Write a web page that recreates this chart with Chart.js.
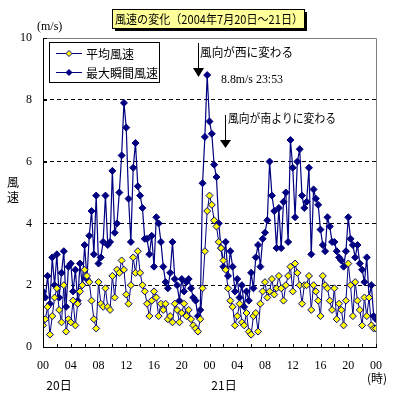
<!DOCTYPE html>
<html>
<head>
<meta charset="utf-8">
<script src="https://cdn.jsdelivr.net/npm/chart.js@4.4.0/dist/chart.umd.min.js"></script>
<style>
html, body { margin: 0; padding: 0; background: #fff; }
</style>
</head>
<body>
<canvas id="graficoVento" width="399" height="399"></canvas>
<script>
// 20分ごとの値 (0時〜48時), 1行 = 1時間
var velocidadeMedia = [
	0.7, 0.9, 1.3,   0.4, 1.0, 1.6,   1.9, 1.2, 0.8,   2.0, 0.5, 0.9,
	0.8, 1.5, 0.7,   1.4, 1.8, 2.0,   2.5, 2.3, 2.1,   1.5, 0.9, 0.6,
	2.1, 1.4, 1.3,   1.9, 1.3, 1.2,   2.3, 1.6, 2.5,   2.4, 2.8, 2.5,
	1.7, 1.4, 2.0,   2.9, 2.4, 3.1,   2.4, 2.0, 1.8,   1.4, 1.0, 1.5,
	1.8, 1.6, 1.0,   1.4, 1.2, 1.4,   0.9, 1.0, 0.8,   1.4, 1.2, 0.8,
	1.1, 1.4, 1.0,   1.2, 0.9, 0.7,   0.6, 0.5, 0.9,   1.9, 3.1, 4.4,
	4.9, 4.6, 4.1,   3.9, 3.4, 3.2,   2.8, 2.5, 1.9,   1.5, 1.3, 0.7,
	1.0, 1.4, 0.8,   0.7, 1.1, 0.5,   0.4, 1.0, 1.1,   0.5, 1.4, 1.8,
	2.1, 1.6, 1.8,   2.2, 1.7, 1.9,   2.3, 1.9, 1.5,   2.0, 2.3, 2.6,
	1.8, 2.7, 2.4,   2.0, 1.4, 2.0,   2.0, 2.3, 1.2,   2.0, 1.8, 1.5,
	1.0, 2.3, 2.0,   1.9, 1.5, 1.2,   1.9, 0.9, 1.4,   1.2, 0.7, 1.5,
	2.7, 2.0, 1.0,   2.1, 1.5, 1.2,   0.7, 1.6, 1.0,   1.6, 0.7, 0.6,
	0.6
];

var velocidadeMaxima = [
	1.8, 1.6, 2.3,   1.4, 2.9, 2.0,   3.0, 1.6, 2.4,   3.1, 1.3, 2.6,
	2.7, 1.8, 2.5,   1.5, 2.7, 2.0,   3.3, 2.2, 3.6,   4.4, 3.0, 4.9,
	2.7, 2.9, 3.4,   4.9, 3.3, 3.4,   5.7, 3.7, 4.0,   5.0, 6.2, 7.9,
	7.1, 4.8, 3.4,   5.8, 6.6, 5.2,   4.9, 4.5, 3.5,   3.5, 3.0, 3.6,
	2.6, 4.2, 4.0,   3.4, 2.6, 2.1,   1.9, 2.4, 3.4,   2.2, 2.0, 1.5,
	2.2, 1.8, 2.1,   2.2, 1.9, 1.6,   1.5, 1.0, 1.2,   5.3, 6.8, 8.8,
	7.3, 6.9, 5.9,   5.5, 4.0, 3.2,   2.6, 3.4, 2.3,   3.1, 2.6, 1.8,
	2.2, 1.6, 2.0,   1.3, 1.8, 1.5,   2.4, 1.9, 2.9,   3.3, 2.6, 3.5,
	3.7, 4.1, 6.0,   4.9, 4.4, 3.2,   4.5, 3.2, 4.7,   5.0, 3.4, 6.7,
	5.8, 4.2, 6.0,   6.4, 4.9, 4.5,   4.7, 5.8, 3.0,   5.1, 4.8, 4.6,
	3.8, 3.3, 3.1,   4.2, 3.9, 3.4,   3.4, 3.1, 2.9,   2.8, 2.6, 3.1,
	4.2, 3.5, 3.3,   2.9, 3.3, 2.7,   2.5, 2.1, 2.9,   1.6, 2.0, 1.0,
	0.9
];

var rotulosHora = ['00', '04', '08', '12', '16', '20', '00', '04', '08', '12', '16', '20', '00'];
var rotulosDia = ['20日', '21日'];
var nomesSerie = ['平均風速', '最大瞬間風速'];

var azul = '#000080';
var amarelo = '#FFFF00';
var fonteJp = "'Noto Sans CJK JP'";
var fonteNum = "'Liberation Serif'";

function pontos(lista) {
	var p = [];
	for (var i = 0; i < lista.length; i++) {
		p.push({x: i / 3, y: lista[i]});
	}
	return p;
}

function seta(ctx, x, y1, y2, yTri) {
	ctx.strokeStyle = '#000';
	ctx.lineWidth = 1;
	ctx.beginPath();
	ctx.moveTo(x + 0.5, y1);
	ctx.lineTo(x + 0.5, yTri + 1);
	ctx.stroke();
	ctx.fillStyle = '#000';
	ctx.beginPath();
	ctx.moveTo(x - 5, yTri);
	ctx.lineTo(x + 6, yTri);
	ctx.lineTo(x + 0.5, y2);
	ctx.closePath();
	ctx.fill();
}

var decoracao = {
	id: 'decoracao',
	afterDraw: function(chart) {
		var ctx = chart.ctx;
		var a = chart.chartArea;
		var sx = chart.scales.x, sy = chart.scales.y;
		var px = function(v) { return Math.round(sx.getPixelForValue(v)); };
		var py = function(v) { return Math.round(sy.getPixelForValue(v)); };
		ctx.save();

		// moldura
		ctx.lineWidth = 1;
		ctx.strokeStyle = '#808080';
		ctx.beginPath();
		ctx.moveTo(a.left, a.top + 0.5);
		ctx.lineTo(a.right + 0.5, a.top + 0.5);
		ctx.lineTo(a.right + 0.5, a.bottom);
		ctx.stroke();
		ctx.strokeStyle = '#000';
		ctx.beginPath();
		ctx.moveTo(a.left + 0.5, a.top);
		ctx.lineTo(a.left + 0.5, a.bottom + 0.5);
		ctx.lineTo(a.right + 1, a.bottom + 0.5);
		ctx.stroke();

		// marcas para dentro
		ctx.beginPath();
		for (var h = 0; h <= 48; h += 2) {
			ctx.moveTo(px(h) + 0.5, a.bottom);
			ctx.lineTo(px(h) + 0.5, a.bottom - 3);
		}
		for (var v = 0; v <= 10; v += 2) {
			ctx.moveTo(a.left, py(v) + 0.5);
			ctx.lineTo(a.left + 4, py(v) + 0.5);
		}
		ctx.stroke();

		// titulo
		var tx = 112, ty = 9, tw = 192, th = 19;
		ctx.fillStyle = '#000';
		ctx.fillRect(tx + 3, ty + 3, tw, th);
		ctx.fillStyle = '#FFFF99';
		ctx.fillRect(tx, ty, tw, th);
		ctx.strokeStyle = '#000';
		ctx.strokeRect(tx + 0.5, ty + 0.5, tw, th);
		ctx.fillStyle = '#000';
		ctx.font = '12px ' + fonteJp;
		ctx.textBaseline = 'middle';
		ctx.textAlign = 'left';
		ctx.fillText('風速の変化（2004年7月20日～21日）', tx + 3, ty + th / 2 + 1, 188);

		// unidade e eixo
		ctx.font = '12px ' + fonteNum;
		ctx.fillText('(m/s)', 37, 27);
		ctx.font = '12px ' + fonteJp;
		ctx.textAlign = 'center';
		ctx.fillText('風', 13, 182);
		ctx.fillText('速', 13, 197);
		ctx.fillText(rotulosDia[0], px(2.3), 385);
		ctx.fillText(rotulosDia[1], px(26.1), 385);
		ctx.fillText('(時)', px(48.2), 378);

		// legenda
		ctx.fillStyle = '#fff';
		ctx.fillRect(49, 42, 110, 40);
		ctx.strokeStyle = '#000';
		ctx.strokeRect(49.5, 42.5, 110, 40);
		var cores = [amarelo, azul];
		var ly = [53, 72];
		for (var k = 0; k < 2; k++) {
			ctx.strokeStyle = azul;
			ctx.beginPath();
			ctx.moveTo(56, ly[k] + 0.5);
			ctx.lineTo(82, ly[k] + 0.5);
			ctx.stroke();
			ctx.fillStyle = cores[k];
			ctx.strokeStyle = azul;
			Chart.helpers.drawPoint(ctx, {pointStyle: 'rectRot', radius: 3, borderWidth: 1}, 69, ly[k] + 0.5);
			ctx.fillStyle = '#000';
			ctx.textAlign = 'left';
			ctx.font = '12px ' + fonteJp;
			ctx.fillText(nomesSerie[k], 86, ly[k] + 1);
		}

		// anotacoes
		seta(ctx, px(22.34), py(9.84), py(8.74), py(9.03));
		seta(ctx, px(26.23), py(7.51), py(6.44), py(6.7));
		ctx.fillStyle = '#000';
		ctx.textAlign = 'left';
		ctx.font = '12px ' + fonteJp;
		ctx.fillText('風向が西に変わる', px(22.63), py(9.55), 93);
		ctx.fillText('風向が南よりに変わる', px(26.67), py(7.41), 108);
		ctx.font = '12px ' + fonteNum;
		ctx.fillText('8.8m/s 23:53', px(25.66), py(8.64), 62);

		ctx.restore();
	}
};

var grafico = new Chart(document.getElementById('graficoVento').getContext('2d'), {
	type: 'line',
	data: {
		datasets: [{
			label: nomesSerie[0],
			data: pontos(velocidadeMedia),
			borderColor: azul,
			borderWidth: 1,
			pointStyle: 'rectRot',
			pointRadius: 3.5,
			pointBackgroundColor: amarelo,
			pointBorderColor: azul,
			pointBorderWidth: 1
		}, {
			label: nomesSerie[1],
			data: pontos(velocidadeMaxima),
			borderColor: azul,
			borderWidth: 1.2,
			pointStyle: 'rectRot',
			pointRadius: 3.5,
			pointBackgroundColor: azul,
			pointBorderColor: azul,
			pointBorderWidth: 1
		}]
	},
	options: {
		responsive: false,
		animation: false,
		layout: { padding: { top: 38, right: 23, left: 0, bottom: 0 } },
		plugins: {
			legend: { display: false },
			tooltip: { enabled: false }
		},
		scales: {
			x: {
				type: 'linear',
				min: 0,
				max: 48,
				afterFit: function(s) { s.height = 52; },
				grid: { display: false },
				border: { display: false },
				ticks: {
					stepSize: 4,
					autoSkip: false,
					maxRotation: 0,
					padding: 4,
					color: '#000',
					font: { family: fonteNum, size: 12 },
					callback: function(v) { return rotulosHora[v / 4]; }
				}
			},
			y: {
				min: 0,
				max: 10,
				afterFit: function(s) { s.width = 43; },
				grid: {
					drawTicks: false,
					color: function(c) {
						return (c.tick && (c.tick.value === 0 || c.tick.value === 10)) ? 'rgba(0,0,0,0)' : '#000';
					}
				},
				border: { display: false, dash: [4, 3] },
				ticks: {
					stepSize: 2,
					padding: 11,
					color: '#000',
					font: { family: fonteNum, size: 12 }
				}
			}
		}
	},
	plugins: [decoracao]
});
</script>
</body>
</html>
